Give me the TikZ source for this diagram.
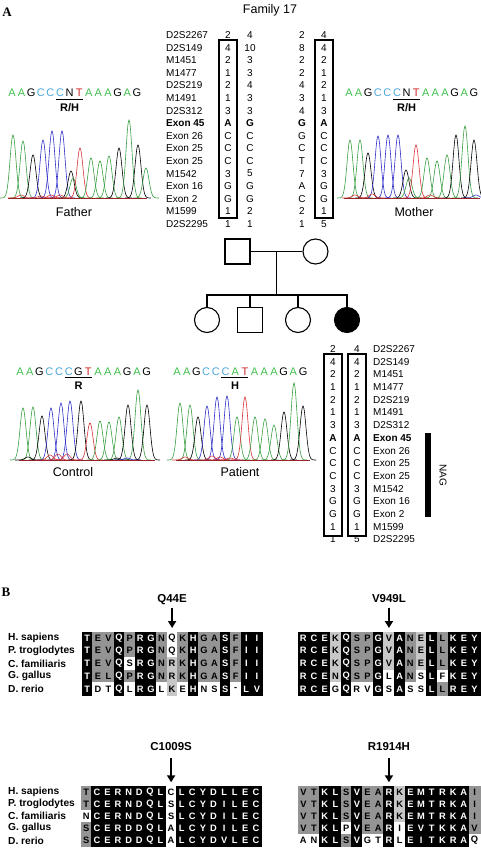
\documentclass[tikz,border=0pt]{standalone}
\usepackage{fontspec}
\setmainfont{Liberation Sans}
\newfontfamily\panelfont{Liberation Serif}
\usetikzlibrary{arrows.meta,positioning}

% trace and base colours
\definecolor{trA}{rgb}{0.22,0.62,0.25}
\definecolor{trC}{rgb}{0.18,0.18,0.78}
\definecolor{trG}{rgb}{0,0,0}
\definecolor{trT}{rgb}{0.85,0.2,0.22}
\definecolor{ntA}{rgb}{0.25,0.75,0.3}
\definecolor{ntC}{rgb}{0.3,0.66,0.86}
\definecolor{ntG}{rgb}{0,0,0}
\definecolor{ntT}{rgb}{0.82,0.15,0.15}
% alignment shading
\colorlet{bgk}{black}  \colorlet{fgk}{white}
\colorlet{bgg}{black!42}\colorlet{fgg}{black}
\colorlet{bgl}{black!22}\colorlet{fgl}{black}
\colorlet{bgw}{white}  \colorlet{fgw}{black}

\tikzset{
  panel/.style={inner sep=0pt, font=\panelfont\bfseries\fontsize{13}{14}\selectfont},
  ttl/.style={inner sep=0pt, font=\fontsize{12.5}{14}\selectfont},
  marker/.style={anchor=west, inner sep=0pt, font=\fontsize{10}{12}\selectfont},
  allele/.style={inner sep=0pt, font=\fontsize{10}{12}\selectfont},
  hapbox/.style={draw, line width=1.1pt},
  person/.style={draw, line width=1.1pt, minimum size=25pt, inner sep=0pt},
  pedline/.style={line width=1.1pt},
  seq/.style={inner sep=0pt, text height=8pt, text depth=0pt, font=\fontsize{11}{12}\selectfont},
  codon/.style={inner sep=0pt, text height=7.8pt, text depth=0pt, font=\bfseries\fontsize{11}{12}\selectfont},
  codonbar/.style={line width=1.3pt},
  who/.style={inner sep=0pt, font=\fontsize{12.5}{14}\selectfont},
  trace/.style={line width=0.6pt},
  species/.style={anchor=west, inner sep=0pt, font=\bfseries\fontsize{10.2}{12}\selectfont},
  aa/.style={inner sep=0pt, minimum width=10.7pt, minimum height=12.7pt, line width=0.3pt,
    font=\bfseries\fontsize{9.3}{10}\selectfont},
  mut/.style={inner sep=0pt, text height=8.4pt, text depth=0pt, font=\bfseries\fontsize{11.5}{13}\selectfont},
  mutarrow/.style={line width=2.2pt, -{Triangle[length=7pt,width=8pt]}}
}

\begin{document}
\begin{tikzpicture}[x=1pt,y=-1pt]
\useasboundingbox (0,0) rectangle (481,848);

% ---------- A ----------
\node[panel] (pA) at (7,12) {A};
\node[ttl] (fam) at (270,10) {Family 17};

% parents' haplotypes
\foreach \m [count=\i] in {D2S2267,D2S149,M1451,M1477,D2S219,M1491,D2S312,\textbf{Exon 45},Exon 26,Exon 25,Exon 25,M1542,Exon 16,Exon 2,M1599,D2S2295}
  \node[marker] (pm\i) at (166,{35+(\i-1)*12.6}) {\m};
\foreach \fa/\fb/\ma/\mb [count=\i] in {2/4/2/4,4/10/8/4,2/3/2/2,1/3/2/1,2/4/4/2,1/3/3/1,3/3/4/3,
    \textbf{A}/\textbf{G}/\textbf{G}/\textbf{A},C/C/G/C,C/C/C/C,C/C/T/C,3/5/7/3,G/G/A/G,G/G/C/G,1/2/2/1,1/1/1/5}{
  \node[allele] (fa\i) at (228,{35+(\i-1)*12.6}) {\fa};
  \node[allele] (fb\i) at (250,{35+(\i-1)*12.6}) {\fb};
  \node[allele] (ma\i) at (302,{35+(\i-1)*12.6}) {\ma};
  \node[allele] (mb\i) at (324,{35+(\i-1)*12.6}) {\mb};
}
\draw[hapbox] (219,40) rectangle (237,218);
\draw[hapbox] (315,40) rectangle (333,218);

% pedigree
\node[person] (dad) at (237.5,251.5) {};
\node[person, circle] (mom) at (315.5,251.5) {};
\node[person, circle] (kid1) at (207,320) {};
\node[person] (kid2) at (250,320) {};
\node[person, circle] (kid3) at (298,320) {};
\node[person, circle, fill=black] (kid4) at (347,320) {};
\draw[pedline] (dad.east) -- coordinate[pos=0.5] (mate) (mom.west);
\coordinate (sib) at (277,295);
\draw[pedline] (mate) -- (mate |- sib);
\draw[pedline] (kid1.north) -- (kid1 |- sib) -- (kid4 |- sib) -- (kid4.north);
\draw[pedline] (kid2.north) -- (kid2 |- sib);
\draw[pedline] (kid3.north) -- (kid3 |- sib);

% patient's haplotype
\foreach \pa/\pb/\m [count=\i] in {2/4/D2S2267,4/4/D2S149,2/2/M1451,1/1/M1477,2/2/D2S219,1/1/M1491,3/3/D2S312,
    \textbf{A}/\textbf{A}/\textbf{Exon 45},C/C/Exon 26,C/C/Exon 25,C/C/Exon 25,3/3/M1542,G/G/Exon 16,G/G/Exon 2,1/1/M1599,1/5/D2S2295}{
  \node[allele] (pa\i) at (333,{349+(\i-1)*12.7}) {\pa};
  \node[allele] (pb\i) at (357,{349+(\i-1)*12.7}) {\pb};
  \node[marker] (km\i) at (373,{349+(\i-1)*12.7}) {\m};
}
\draw[hapbox] (324,354) rectangle (342,536);
\draw[hapbox] (348,354) rectangle (366,536);
\fill (425,433) rectangle (431,517);
\node[allele, rotate=-90] (nag) at (443,475) {NAG};

% chromatograms: sequence
\foreach \b/\k [count=\i] in {A/ntA,A/ntA,G/ntG,C/ntC,C/ntC,C/ntC,N/ntG,T/ntT,A/ntA,A/ntA,A/ntA,G/ntG,A/ntA,G/ntG}{
  \node[seq, text=\k] (fs\i) at ({12+(\i-1)*9.6},93) {\b};
  \node[seq, text=\k] (ms\i) at ({349+(\i-1)*9.6},93) {\b};
}
\foreach \b/\k [count=\i] in {A/ntA,A/ntA,G/ntG,C/ntC,C/ntC,C/ntC,G/ntG,T/ntT,A/ntA,A/ntA,A/ntA,G/ntG,A/ntA,G/ntG}
  \node[seq, text=\k] (cs\i) at ({20+(\i-1)*9.75},371) {\b};
\foreach \b/\k [count=\i] in {A/ntA,A/ntA,G/ntG,C/ntC,C/ntC,C/ntC,A/ntA,T/ntT,A/ntA,A/ntA,A/ntA,G/ntG,A/ntA,G/ntG}
  \node[seq, text=\k] (ps\i) at ({177+(\i-1)*9.7},371) {\b};
\foreach \s/\t in {fs/{R/H}, ms/{R/H}, cs/R, ps/H}{
  \draw[codonbar] ([yshift=-2.6pt]\s6.south west) -- ([yshift=-2.6pt]\s8.south east);
  \node[codon, below=6pt of \s7] (\s cod) {\t};
}

% chromatograms: traces
\foreach \px/\py/\pc in {13/63/trA,23/57/trA,33/43/trG,43/58/trC,52/67/trC,62/67/trC,71/27/trG,73/20/trA,80/50/trT,
    91/40/trA,100/37/trA,109/42/trA,119/50/trG,129/78/trA,138/53/trG,21/3/trT,41/2/trT,51/3/trT,60/3/trT,146/30/trA}
  \draw[trace, color=\pc] plot[domain=\px-13:\px+13, samples=27, smooth] (\x,{198-\py*exp(-((\x-\px)/4.2)^2)});
\foreach \px/\py/\pc in {350/58/trA,360/58/trA,368/45/trG,378/62/trC,388/63/trC,398/63/trC,406/28/trG,409/20/trA,416/53/trT,
    427/40/trA,437/37/trA,447/43/trA,456/63/trG,465/72/trA,474/58/trG,355/3/trT,372/4/trT,430/3/trT,476/3/trC}
  \draw[trace, color=\pc] plot[domain=\px-13:\px+13, samples=27, smooth] (\x,{198-\py*exp(-((\x-\px)/4.2)^2)});
\foreach \px/\py/\pc in {23/52/trA,33/53/trA,42/44/trG,51/52/trC,61/57/trC,70/59/trC,81/59/trG,90/37/trT,100/39/trA,
    109/38/trA,119/43/trA,128/55/trG,138/70/trA,147/55/trG,28/3/trG,50/5/trT,58/6/trT,67/6/trT,117/2/trG,127/2/trC}
  \draw[trace, color=\pc] plot[domain=\px-13:\px+13, samples=27, smooth] (\x,{460-\py*exp(-((\x-\px)/4.2)^2)});
\foreach \px/\py/\pc in {180/57/trA,190/55/trA,198/43/trG,207/54/trC,217/63/trC,227/64/trC,237/43/trA,245/63/trT,255/43/trA,
    265/41/trA,274/35/trA,284/48/trG,294/77/trA,303/54/trG,185/3/trT,212/4/trT,220/3/trT,230/2/trT}
  \draw[trace, color=\pc] plot[domain=\px-13:\px+13, samples=27, smooth] (\x,{460-\py*exp(-((\x-\px)/4.2)^2)});
\draw[trace, trT!70!black] (8,198) -- (147,198);
\draw[trace, trT!70!black] (344,198) -- (480,198);
\draw[trace, trT!70!black] (19,460) -- (155,460);
\draw[trace, trT!70!black] (176,460) -- (310,460);

\node[who] (father) at (74,212) {Father};
\node[who] (mother) at (414,212) {Mother};
\node[who] (control) at (73,472) {Control};
\node[who] (patient) at (240,472) {Patient};

% ---------- B ----------
\node[panel] (pB) at (6,592) {B};
\foreach \s [count=\r] in {H. sapiens,P. troglodytes,C. familiaris,G. gallus,D. rerio}{
  \node[species] (sq\r) at (8,{638+(\r-1)*12.7}) {\s};
  \node[species] (sc\r) at (8,{792+(\r-1)*12.1}) {\s};
}

% Q44E
\foreach \row [count=\ri] in {
  {T/k,E/g,V/g,Q/k,P/g,R/k,G/k,N/g,Q/w,K/g,H/k,G/g,A/g,S/k,F/g,I/k,I/k},
  {T/k,E/g,V/g,Q/k,P/g,R/k,G/k,N/g,Q/w,K/g,H/k,G/g,A/g,S/k,F/g,I/k,I/k},
  {T/k,E/g,V/g,Q/k,S/w,R/k,G/k,N/g,R/l,K/g,H/k,G/g,A/g,S/k,F/g,I/k,I/k},
  {T/k,E/g,L/g,Q/k,P/g,R/k,G/k,N/g,R/l,K/g,H/k,G/g,A/g,S/k,F/g,I/k,I/k},
  {T/k,D/w,T/w,Q/k,L/w,R/k,G/k,L/w,K/l,E/w,H/k,N/w,S/w,S/k,-/w,L/k,V/k}}{
  \foreach \res/\sh [count=\ci] in \row
    \node[aa, fill=bg\sh, draw=bg\sh, text=fg\sh] (q\ri-\ci) at ({82+(\ci-0.5)*10.6},{638+(\ri-1)*12.7}) {\res};
}
% V949L
\foreach \row [count=\ri] in {
  {R/k,C/k,E/k,K/l,Q/k,S/g,P/g,G/k,V/l,A/k,N/g,E/l,L/k,L/g,K/k,E/k,Y/k},
  {R/k,C/k,E/k,K/l,Q/k,S/g,P/g,G/k,V/l,A/k,N/g,E/l,L/k,L/g,K/k,E/k,Y/k},
  {R/k,C/k,E/k,K/l,Q/k,S/g,P/g,G/k,V/l,A/k,N/g,E/l,L/k,L/g,K/k,E/k,Y/k},
  {R/k,C/k,E/k,N/l,Q/k,S/g,P/g,G/k,L/w,A/k,N/g,S/w,L/k,F/w,K/k,E/k,Y/k},
  {R/k,C/k,E/k,G/w,Q/k,R/w,V/w,G/k,S/w,A/k,S/w,S/w,L/k,L/g,R/k,E/k,Y/k}}{
  \foreach \res/\sh [count=\ci] in \row
    \node[aa, fill=bg\sh, draw=bg\sh, text=fg\sh] (v\ri-\ci) at ({298+(\ci-0.5)*10.7},{638+(\ri-1)*12.7}) {\res};
}
% C1009S
\foreach \row [count=\ri] in {
  {T/g,C/k,E/k,R/k,N/k,D/k,Q/k,L/k,C/w,L/k,C/k,Y/k,D/k,L/k,L/k,E/k,C/k},
  {T/g,C/k,E/k,R/k,N/k,D/k,Q/k,L/k,S/w,L/k,C/k,Y/k,D/k,I/k,L/k,E/k,C/k},
  {N/w,C/k,E/k,R/k,N/k,D/k,Q/k,L/k,S/w,L/k,C/k,Y/k,D/k,I/k,L/k,E/k,C/k},
  {S/g,C/k,E/k,R/k,D/k,D/k,Q/k,L/k,A/w,L/k,C/k,Y/k,D/k,I/k,L/k,E/k,C/k},
  {S/g,C/k,E/k,R/k,D/k,D/k,Q/k,L/k,A/w,L/k,C/k,Y/k,D/k,V/k,L/k,E/k,C/k}}{
  \foreach \res/\sh [count=\ci] in \row
    \node[aa, minimum height=12.1pt, fill=bg\sh, draw=bg\sh, text=fg\sh] (c\ri-\ci) at ({81+(\ci-0.5)*10.6},{792+(\ri-1)*12.1}) {\res};
}
% R1914H
\foreach \row [count=\ri] in {
  {V/g,T/g,K/k,L/k,S/g,V/k,E/g,A/g,R/k,K/l,E/k,M/k,T/k,R/k,K/k,A/k,I/g},
  {V/g,T/g,K/k,L/k,S/g,V/k,E/g,A/g,R/k,K/l,E/k,M/k,T/k,R/k,K/k,A/k,I/g},
  {V/g,T/g,K/k,L/k,S/g,V/k,E/g,A/g,R/k,K/l,E/k,M/k,T/k,R/k,K/k,A/k,I/g},
  {V/g,T/g,K/k,L/k,P/w,V/k,E/g,A/g,R/k,I/w,E/k,V/k,T/k,K/k,K/k,A/k,V/g},
  {A/w,N/w,K/k,L/k,S/g,V/k,G/w,T/w,R/k,L/w,E/k,I/k,T/k,K/k,R/k,A/k,Q/w}}{
  \foreach \res/\sh [count=\ci] in \row
    \node[aa, minimum height=12.1pt, fill=bg\sh, draw=bg\sh, text=fg\sh] (r\ri-\ci) at ({298+(\ci-0.5)*10.7},{792+(\ri-1)*12.1}) {\res};
}

% mutations
\node[mut, above=29pt of q1-9] (mq) {Q44E};
\node[mut, above=29pt of v1-9] (mv) {V949L};
\node[mut, above=35pt of c1-9] (mc) {C1009S};
\node[mut, above=35pt of r1-9] (mr) {R1914H};
\draw[mutarrow] ([yshift=-5pt]mq.south) -- ([yshift=3.5pt]q1-9.north);
\draw[mutarrow] ([yshift=-5pt]mv.south) -- ([yshift=3.5pt]v1-9.north);
\draw[mutarrow] ([yshift=-7pt]mc.south) -- ([yshift=3.5pt]c1-9.north);
\draw[mutarrow] ([yshift=-7pt]mr.south) -- ([yshift=3.5pt]r1-9.north);
\end{tikzpicture}
\end{document}
